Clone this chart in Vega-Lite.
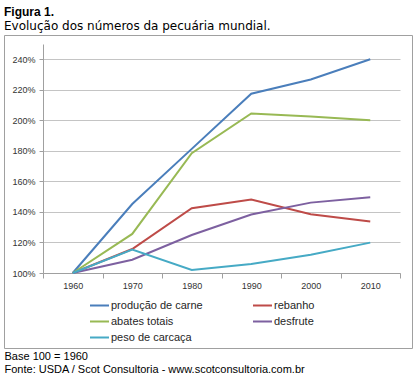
{
  "$schema": "https://vega.github.io/schema/vega-lite/v6.json",
  "width": 408,
  "height": 313,
  "padding": {"left": 4, "top": 6, "right": 0, "bottom": 0},
  "background": "white",
  "title": {
    "text": "Figura 1.",
    "subtitle": "Evolução dos números da pecuária mundial.",
    "anchor": "start",
    "frame": "group",
    "font": "Liberation Sans",
    "fontSize": 12,
    "fontWeight": "bold",
    "color": "#000000",
    "subtitleFont": "DejaVu Sans",
    "subtitleFontSize": 12,
    "subtitleColor": "#000000",
    "subtitlePadding": 2,
    "offset": 2
  },
  "data": {
    "values": [
      {"year": 1960, "series": "produção de carne", "value": 1.0},
      {"year": 1970, "series": "produção de carne", "value": 1.452},
      {"year": 1980, "series": "produção de carne", "value": 1.813},
      {"year": 1990, "series": "produção de carne", "value": 2.174},
      {"year": 2000, "series": "produção de carne", "value": 2.268},
      {"year": 2010, "series": "produção de carne", "value": 2.40},
      {"year": 1960, "series": "rebanho", "value": 1.0},
      {"year": 1970, "series": "rebanho", "value": 1.157},
      {"year": 1980, "series": "rebanho", "value": 1.424},
      {"year": 1990, "series": "rebanho", "value": 1.481},
      {"year": 2000, "series": "rebanho", "value": 1.385},
      {"year": 2010, "series": "rebanho", "value": 1.337},
      {"year": 1960, "series": "abates totais", "value": 1.0},
      {"year": 1970, "series": "abates totais", "value": 1.256},
      {"year": 1980, "series": "abates totais", "value": 1.785},
      {"year": 1990, "series": "abates totais", "value": 2.045},
      {"year": 2000, "series": "abates totais", "value": 2.025},
      {"year": 2010, "series": "abates totais", "value": 2.001},
      {"year": 1960, "series": "desfrute", "value": 1.0},
      {"year": 1970, "series": "desfrute", "value": 1.087},
      {"year": 1980, "series": "desfrute", "value": 1.249},
      {"year": 1990, "series": "desfrute", "value": 1.383},
      {"year": 2000, "series": "desfrute", "value": 1.461},
      {"year": 2010, "series": "desfrute", "value": 1.496},
      {"year": 1960, "series": "peso de carcaça", "value": 1.0},
      {"year": 1970, "series": "peso de carcaça", "value": 1.153},
      {"year": 1980, "series": "peso de carcaça", "value": 1.02},
      {"year": 1990, "series": "peso de carcaça", "value": 1.059},
      {"year": 2000, "series": "peso de carcaça", "value": 1.12},
      {"year": 2010, "series": "peso de carcaça", "value": 1.199}
    ]
  },
  "mark": {"type": "line", "strokeWidth": 2},
  "encoding": {
    "x": {
      "field": "year",
      "type": "quantitative",
      "scale": {"domain": [1955, 2015], "range": [39, 396], "nice": false, "zero": false},
      "axis": {
        "orient": "bottom",
        "offset": -75,
        "values": [1955, 1965, 1975, 1985, 1995, 2005, 2015],
        "labelExpr": "datum.value < 2015 ? '' + (datum.value + 5) : ''",
        "labelOffset": 29.75,
        "labelFont": "Liberation Sans",
        "labelFontSize": 9,
        "labelColor": "#333333",
        "labelPadding": 3,
        "labelFlush": false,
        "labelOverlap": false,
        "tickSize": 5,
        "tickColor": "#a0a0a0",
        "domainColor": "#a0a0a0",
        "grid": false,
        "title": ["Base 100 = 1960", "Fonte: USDA / Scot Consultoria - www.scotconsultoria.com.br"],
        "titleX": 0,
        "titleY": 86,
        "titleAlign": "left",
        "titleAnchor": "start",
        "titleAngle": 0,
        "titleBaseline": "alphabetic",
        "titleLineHeight": 13,
        "titleFont": "Liberation Sans",
        "titleFontSize": 11,
        "titleFontWeight": "normal",
        "titleColor": "#000000"
      }
    },
    "y": {
      "field": "value",
      "type": "quantitative",
      "scale": {"domain": [1.0, 2.5], "range": [238, 9], "nice": false, "zero": false},
      "axis": {
        "orient": "left",
        "offset": -39,
        "values": [1.0, 1.2, 1.4, 1.6, 1.8, 2.0, 2.2, 2.4],
        "format": ".0%",
        "labelFont": "Liberation Sans",
        "labelFontSize": 9,
        "labelColor": "#333333",
        "labelPadding": 4,
        "tickSize": 4,
        "tickColor": "#a0a0a0",
        "domainColor": "#a0a0a0",
        "grid": true,
        "gridColor": "#c4c4c4",
        "title": null
      }
    },
    "color": {
      "field": "series",
      "type": "nominal",
      "scale": {
        "domain": ["produção de carne", "abates totais", "peso de carcaça", "rebanho", "desfrute"],
        "range": ["#4A7EBB", "#98B954", "#46AAC5", "#BE4B48", "#7D60A0"]
      },
      "legend": {
        "orient": "none",
        "legendX": 85,
        "legendY": 265,
        "columns": 2,
        "columnPadding": 49,
        "rowPadding": 4,
        "clipHeight": 11,
        "symbolType": "stroke",
        "symbolSize": 361,
        "symbolStrokeWidth": 2,
        "labelOffset": 1,
        "labelFont": "Liberation Sans",
        "labelFontSize": 11,
        "labelColor": "#262626",
        "title": null
      }
    }
  },
  "config": {
    "view": {"stroke": "#a0a0a0", "strokeWidth": 1}
  }
}
